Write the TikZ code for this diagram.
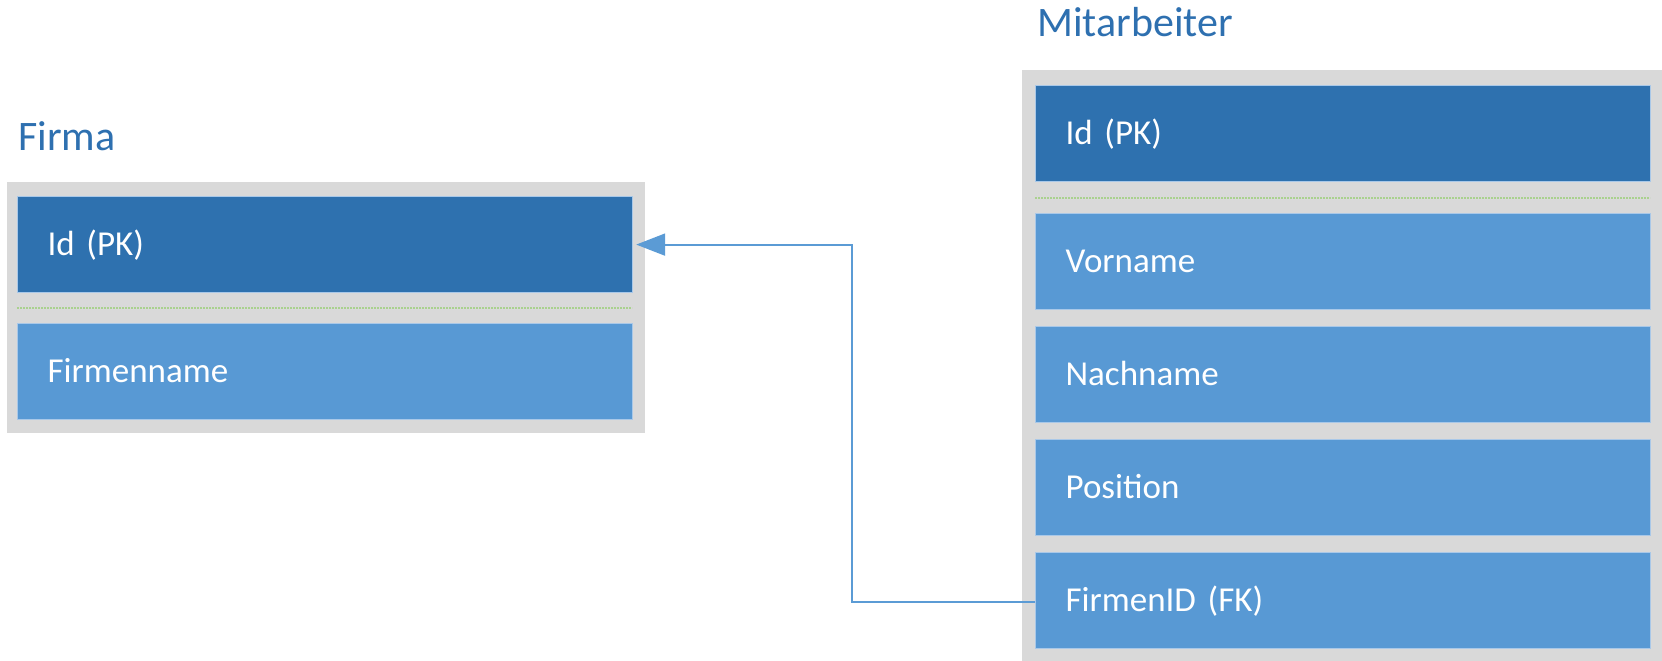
\documentclass[tikz,border=0pt]{standalone}
\usepackage{fontspec}
\setmainfont{Carlito}
\usetikzlibrary{arrows.meta}

\definecolor{tabgray}{HTML}{D9D9D9}
\definecolor{keyblue}{HTML}{2E71AF}
\definecolor{attrblue}{HTML}{5899D4}
\definecolor{edgeblue}{HTML}{A9C8E8}
\definecolor{titleblue}{HTML}{2E70B0}
\definecolor{linkblue}{HTML}{5B9BD5}
\definecolor{sepgreen}{HTML}{A9D18E}

\tikzset{
  tabframe/.style={fill=tabgray, draw=none, anchor=north west, inner sep=0pt},
  tabtitle/.style={anchor=base west, inner sep=0pt, text=titleblue,
    font=\fontsize{42}{48}\selectfont},
  attr/.style={anchor=north west, fill=attrblue, draw=edgeblue, line width=1.2pt,
    minimum height=96pt, text width=555pt, inner xsep=30pt, inner ysep=0pt,
    align=left, text=white, text height=22.5pt, text depth=0pt,
    font=\fontsize{35}{40}\selectfont},
  keyattr/.style={attr, fill=keyblue},
  keysep/.style={draw=sepgreen, line width=2.6pt, dash pattern=on 2pt off 1pt},
  fklink/.style={draw=linkblue, line width=2pt,
    -{Triangle[length=29pt,width=22pt]}, shorten >=3pt}
}

\begin{document}
\begin{tikzpicture}[x=1pt,y=-1pt]
  \useasboundingbox (0,0) rectangle (1662,661);

  % Table Firma
  \node[tabtitle] (firmaTitle) at (18,150) {Firma};
  \node[tabframe, minimum width=638pt, minimum height=251pt] (firmaTab) at (7,182) {};
  \node[keyattr] (firmaId) at (17,196) {Id (PK)};
  \draw[keysep] (17,308) -- (632,308);
  \node[attr] (firmaName) at (17,323) {Firmenname};

  % Table Mitarbeiter
  \node[tabtitle] (maTitle) at (1037,37) {Mitarbeiter};
  \node[tabframe, minimum width=640pt, minimum height=591pt] (maTab) at (1022,70) {};
  \node[keyattr] (maId) at (1035,85) {Id (PK)};
  \draw[keysep] (1035,198) -- (1650,198);
  \node[attr] (maVorname) at (1035,213) {Vorname};
  \node[attr] (maNachname) at (1035,326) {Nachname};
  \node[attr] (maPosition) at (1035,439) {Position};
  \node[attr] (maFirmenId) at (1035,552) {FirmenID (FK)};

  % Foreign key reference
  \coordinate (bend) at (852,602);
  \draw[fklink] (maFirmenId.west |- bend) -- (bend) |- (firmaId.east);
\end{tikzpicture}
\end{document}
